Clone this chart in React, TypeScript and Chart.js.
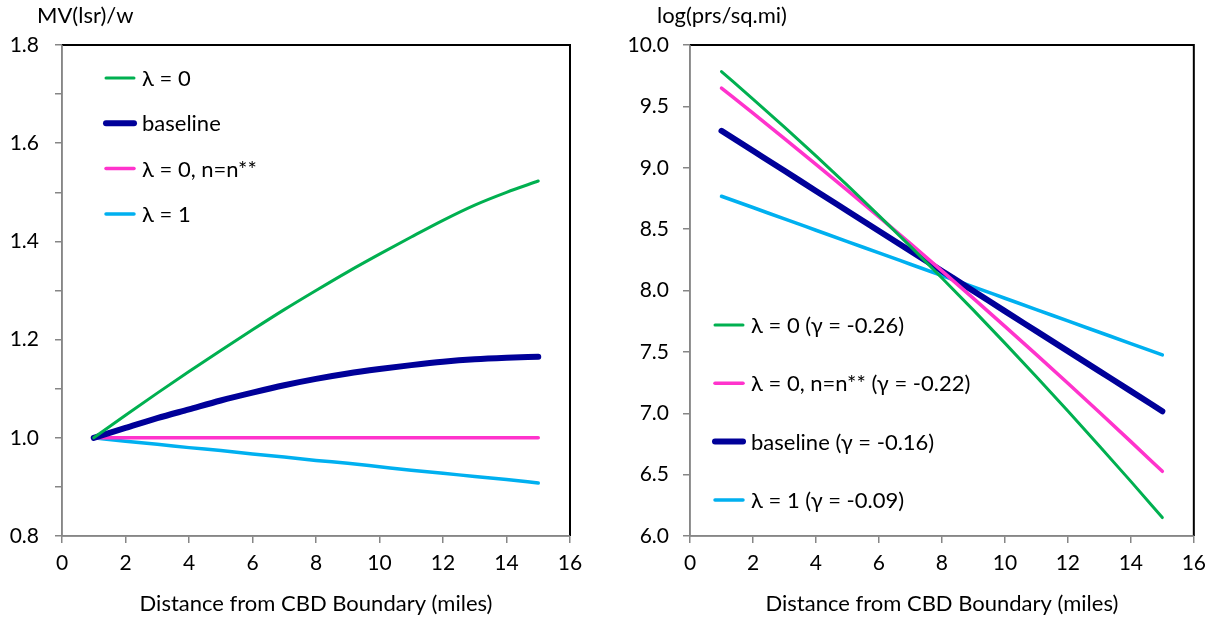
import React, { useEffect, useRef } from 'react';
import { Chart, registerables } from 'chart.js';
Chart.register(...registerables);

const FONT = 'Lato';
const TICK_SIZE = 21;
const TEXT_SIZE = 22;

// ---- data ----
const distance = [1, 2, 3, 4, 5, 6, 7, 8, 9, 10, 11, 12, 13, 14, 15];

// Left panel: MV(lsr)/w
const mvLambda0 = [1.0, 1.046, 1.091, 1.135, 1.178, 1.22, 1.261, 1.3, 1.338, 1.374, 1.409, 1.443, 1.474, 1.5, 1.523];
const mvBaseline = [1.0, 1.02, 1.04, 1.058, 1.076, 1.092, 1.107, 1.12, 1.131, 1.14, 1.148, 1.155, 1.16, 1.163, 1.165];
const mvLambda0nn = [1.0, 1.0, 1.0, 1.0, 1.0, 1.0, 1.0, 1.0, 1.0, 1.0, 1.0, 1.0, 1.0, 1.0, 1.0];
const mvLambda1 = [1.0, 0.993, 0.987, 0.98, 0.974, 0.967, 0.961, 0.954, 0.948, 0.941, 0.934, 0.928, 0.921, 0.915, 0.908];

// Right panel: log(prs/sq.mi)
const densLambda0 = [9.784, 9.56, 9.331, 9.096, 8.856, 8.61, 8.359, 8.102, 7.84, 7.571, 7.298, 7.019, 6.734, 6.445, 6.15];
const densLambda0nn = [9.648, 9.445, 9.238, 9.028, 8.816, 8.6, 8.382, 8.16, 7.936, 7.708, 7.478, 7.244, 7.008, 6.769, 6.527];
const densBaseline = [9.301, 9.138, 8.975, 8.811, 8.648, 8.485, 8.322, 8.159, 7.996, 7.832, 7.669, 7.506, 7.343, 7.18, 7.016];
const densLambda1 = [8.768, 8.676, 8.583, 8.491, 8.399, 8.306, 8.214, 8.122, 8.029, 7.937, 7.845, 7.752, 7.66, 7.568, 7.475];

const xTicksLabel = 'Distance from CBD Boundary (miles)';
const leftYTitle = 'MV(lsr)/w';
const rightYTitle = 'log(prs/sq.mi)';

const GREEN = '#00B050';
const NAVY = '#000099';
const PINK = '#FF33CC';
const SKY = '#00B0F0';

const toPts = (ys: number[]) => ys.map((y, i) => ({ x: distance[i], y }));

const framePlugin = {
  id: 'frame',
  afterDraw(chart: any, _args: any, opts: any) {
    const { ctx, chartArea: a } = chart;
    ctx.save();
    ctx.strokeStyle = '#000';
    ctx.lineWidth = 2;
    ctx.beginPath();
    ctx.moveTo(a.left, a.top);
    ctx.lineTo(a.right, a.top);
    ctx.lineTo(a.right, a.bottom);
    ctx.stroke();
    ctx.strokeStyle = '#868686';
    ctx.lineWidth = 1.5;
    ctx.beginPath();
    ctx.moveTo(a.left, a.top);
    ctx.lineTo(a.left, a.bottom);
    ctx.lineTo(a.right, a.bottom);
    ctx.stroke();

    ctx.fillStyle = '#000';
    ctx.font = `${TEXT_SIZE}px ${FONT}`;
    ctx.textBaseline = 'middle';
    ctx.textAlign = 'left';
    ctx.fillText(opts.yTitle, opts.yTitleX, 16);
    ctx.textAlign = 'center';
    ctx.fillText(opts.xTitle, (a.left + a.right) / 2, 604);

    const ds = chart.data.datasets;
    opts.legendOrder.forEach((idx: number, i: number) => {
      const d = ds[idx];
      const y = a.top + opts.legendTop + i * opts.legendGap;
      const x = a.left + opts.legendLeft;
      ctx.strokeStyle = d.borderColor;
      ctx.lineWidth = d.borderWidth;
      ctx.lineCap = 'round';
      ctx.beginPath();
      ctx.moveTo(x, y);
      ctx.lineTo(x + 28, y);
      ctx.stroke();
      ctx.textAlign = 'left';
      ctx.fillText(d.label, x + 36, y + 1);
    });
    ctx.restore();
  },
};

function buildConfig(p: any) {
  return {
    type: 'line',
    data: {
      datasets: p.series.map((s: any) => ({
        label: s.label,
        data: toPts(s.data),
        borderColor: s.color,
        backgroundColor: s.color,
        borderWidth: s.width,
        pointRadius: 0,
        fill: false,
        cubicInterpolationMode: 'monotone',
        borderCapStyle: 'round',
        borderJoinStyle: 'round',
      })),
    },
    options: {
      animation: false,
      responsive: false,
      maintainAspectRatio: false,
      layout: { padding: { top: 45, right: p.padRight, left: 0, bottom: 0 } },
      plugins: {
        legend: { display: false },
        tooltip: { enabled: false },
        frame: {
          yTitle: p.yTitle,
          yTitleX: p.yTitleX,
          xTitle: xTicksLabel,
          legendOrder: p.legendOrder,
          legendTop: p.legendTop,
          legendLeft: p.legendLeft,
          legendGap: p.legendGap,
        },
      },
      scales: {
        x: {
          type: 'linear',
          min: 0,
          max: 16,
          ticks: { stepSize: 2, color: '#000', font: { family: FONT, size: TICK_SIZE }, padding: 8, maxRotation: 0 },
          grid: { drawOnChartArea: false, drawTicks: true, tickLength: 7, color: '#868686', lineWidth: 1.5 },
          border: { display: true, color: '#868686', width: 1.5 },
          afterFit: (s: any) => { s.height = 81; },
        },
        y: {
          type: 'linear',
          min: p.yMin,
          max: p.yMax,
          ticks: {
            stepSize: p.yStep,
            color: '#000',
            font: { family: FONT, size: TICK_SIZE },
            padding: p.yPad,
            callback: p.yCallback,
          },
          grid: { drawOnChartArea: false, drawTicks: true, tickLength: 7, color: '#868686', lineWidth: 1.5 },
          border: { display: true, color: '#868686', width: 1.5 },
          afterFit: (s: any) => { s.width = p.yWidth; },
        },
      },
    },
    plugins: [framePlugin],
  };
}

const leftPanel = {
  series: [
    { label: 'λ = 0', data: mvLambda0, color: GREEN, width: 3 },
    { label: 'baseline', data: mvBaseline, color: NAVY, width: 6 },
    { label: 'λ = 0, n=n**', data: mvLambda0nn, color: PINK, width: 3.5 },
    { label: 'λ = 1', data: mvLambda1, color: SKY, width: 3.5 },
  ],
  legendOrder: [0, 1, 2, 3],
  legendTop: 33,
  legendLeft: 44,
  legendGap: 45.3,
  yTitle: leftYTitle,
  yTitleX: 37,
  yMin: 0.8,
  yMax: 1.8,
  yStep: 0.1,
  yPad: 16,
  yWidth: 62,
  padRight: 37,
  yCallback: (v: number) => (Math.round(v * 10) % 2 === 0 ? v.toFixed(1) : ''),
};

const rightPanel = {
  series: [
    { label: 'λ = 0 (γ = -0.26)', data: densLambda0, color: GREEN, width: 3 },
    { label: 'λ = 0, n=n** (γ = -0.22)', data: densLambda0nn, color: PINK, width: 3.5 },
    { label: 'baseline (γ = -0.16)', data: densBaseline, color: NAVY, width: 6 },
    { label: 'λ = 1 (γ = -0.09)', data: densLambda1, color: SKY, width: 3.5 },
  ],
  legendOrder: [0, 1, 2, 3],
  legendTop: 280,
  legendLeft: 25,
  legendGap: 58.3,
  yTitle: rightYTitle,
  yTitleX: 50,
  yMin: 6,
  yMax: 10,
  yStep: 0.5,
  yPad: 14,
  yWidth: 83,
  padRight: 18,
  yCallback: (v: number) => v.toFixed(1),
};

function ChartPanel({ panel, left }: { panel: any; left: number }) {
  const ref = useRef<HTMLCanvasElement>(null);
  useEffect(() => {
    if (!ref.current) return;
    const chart = new Chart(ref.current, buildConfig(panel) as any);
    return () => chart.destroy();
  }, [panel]);
  return (
    <canvas
      ref={ref}
      width={607}
      height={617}
      style={{ position: 'absolute', left, top: 0, width: 607, height: 617 }}
    />
  );
}

export default function App() {
  return (
    <div style={{ position: 'absolute', left: 0, top: 0, width: 1214, height: 617, background: '#fff' }}>
      <ChartPanel panel={leftPanel} left={0} />
      <ChartPanel panel={rightPanel} left={607} />
    </div>
  );
}
